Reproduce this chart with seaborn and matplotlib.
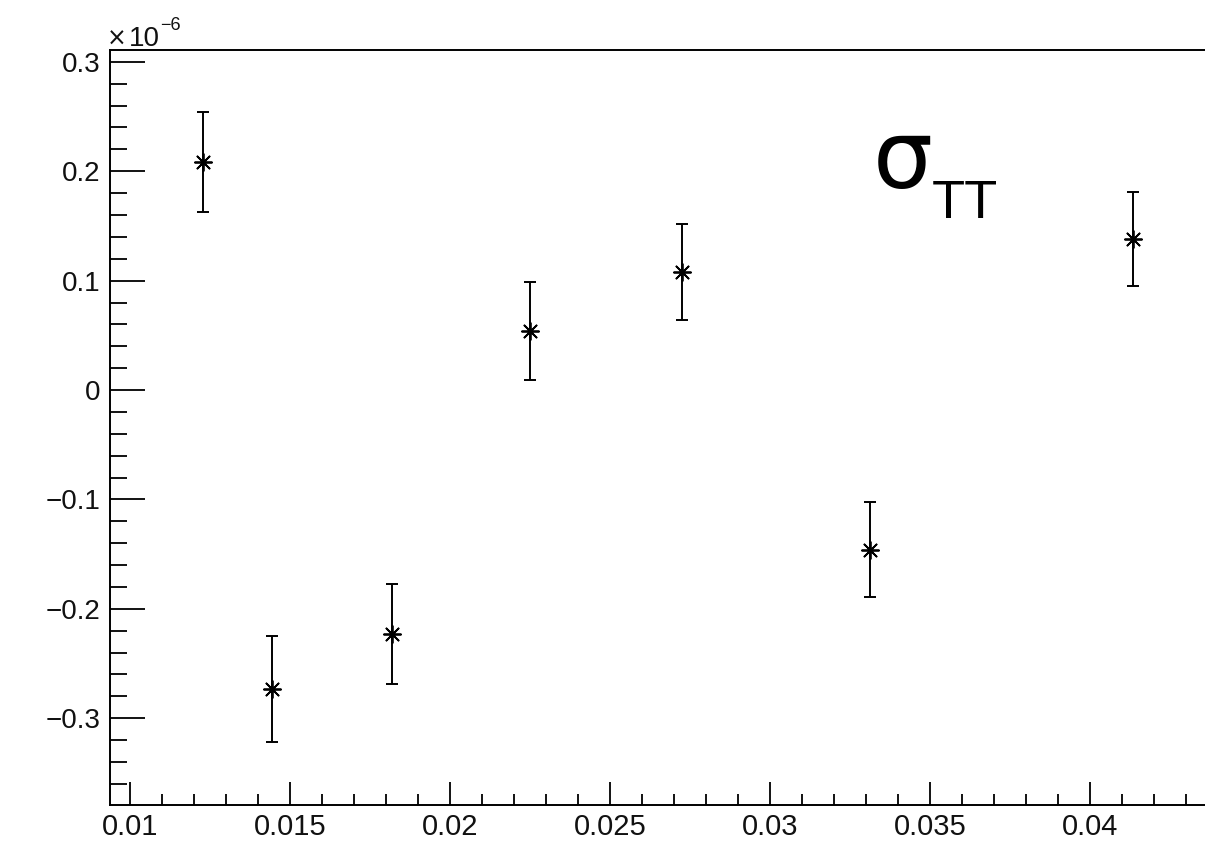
import numpy as np
import pandas as pd
import matplotlib
matplotlib.use("Agg")
import matplotlib.pyplot as plt
from matplotlib.ticker import MultipleLocator, FuncFormatter
from matplotlib.markers import MarkerStyle
import seaborn as sns

# Measured points (y in units of 1e-6)
x_vals = [0.01228, 0.01443, 0.01818, 0.02250, 0.02724, 0.03313, 0.04133]
y_vals = [0.2085, -0.2733, -0.2233, 0.0538, 0.1078, -0.1458, 0.1379]
y_errs = [0.0457, 0.0487, 0.0457, 0.0446, 0.0437, 0.0430, 0.0428]

x_major = [0.01, 0.015, 0.02, 0.025, 0.03, 0.035, 0.04]
y_major = [-0.3, -0.2, -0.1, 0.0, 0.1, 0.2, 0.3]

sns.set_theme(style="ticks")
plt.rcParams["font.family"] = ["Liberation Sans", "DejaVu Sans"]

df = pd.DataFrame({"x": x_vals, "y": y_vals, "err": y_errs})

fig = plt.figure(figsize=(12.05, 8.48), dpi=100)
ax = fig.add_axes([110 / 1205, 43 / 848, 1095 / 1205, 755 / 848])

ax.errorbar(df["x"], df["y"], yerr=df["err"], fmt="none", ecolor="black",
            elinewidth=1.4, capsize=4, capthick=1.4, zorder=2)
sns.scatterplot(data=df, x="x", y="y", ax=ax, marker=MarkerStyle((8, 2, 0)),
                s=150, color="black", linewidth=1.3, zorder=3)
sns.scatterplot(data=df, x="x", y="y", ax=ax, marker="o", s=14,
                color="black", linewidth=0, zorder=4)

ax.set_xlim(0.009375, 0.043594)
ax.set_ylim(-0.3793, 0.3108)

ax.set_xticks(x_major)
ax.set_yticks(y_major)
ax.xaxis.set_minor_locator(MultipleLocator(0.001))
ax.yaxis.set_minor_locator(MultipleLocator(0.02))

fmt = FuncFormatter(lambda v, p: "{:g}".format(round(v, 6)).replace("-", "\u2212"))
ax.xaxis.set_major_formatter(fmt)
ax.yaxis.set_major_formatter(fmt)

ax.tick_params(axis="x", which="major", direction="in", length=16.5, width=1.3,
               labelsize=21, pad=6, color="black")
ax.tick_params(axis="x", which="minor", direction="in", length=8, width=1.3,
               color="black")
ax.tick_params(axis="y", which="major", direction="in", length=25, width=1.3,
               labelsize=20, pad=7, color="black")
ax.tick_params(axis="y", which="minor", direction="in", length=12, width=1.3,
               color="black")
ax.tick_params(labelcolor="#111111")

ax.set_xlabel("")
ax.set_ylabel("")
ax.spines["right"].set_visible(False)
for side in ["left", "bottom", "top"]:
    ax.spines[side].set_linewidth(1.4)
    ax.spines[side].set_color("black")

# Exponent of the y axis
fig.text(107 / 1205, 1 - 46 / 848, "\u00d7", fontsize=17, family="DejaVu Sans",
         ha="left", va="baseline", color="#111111")
fig.text(129 / 1205, 1 - 46 / 848, "10", fontsize=20,
         ha="left", va="baseline", color="#111111")
fig.text(160 / 1205, 1 - 30 / 848, "\u22126", fontsize=13,
         ha="left", va="baseline", color="#111111")

# Observable label
fig.text(873 / 1205, 1 - 188 / 848, "\u03c3", fontsize=68, family="DejaVu Sans",
         ha="left", va="baseline", color="black")
fig.text(932 / 1205, 1 - 218 / 848, "TT", fontsize=39, family="Liberation Sans",
         ha="left", va="baseline", color="black")

fig.savefig("out.png", dpi=100, facecolor="white")
